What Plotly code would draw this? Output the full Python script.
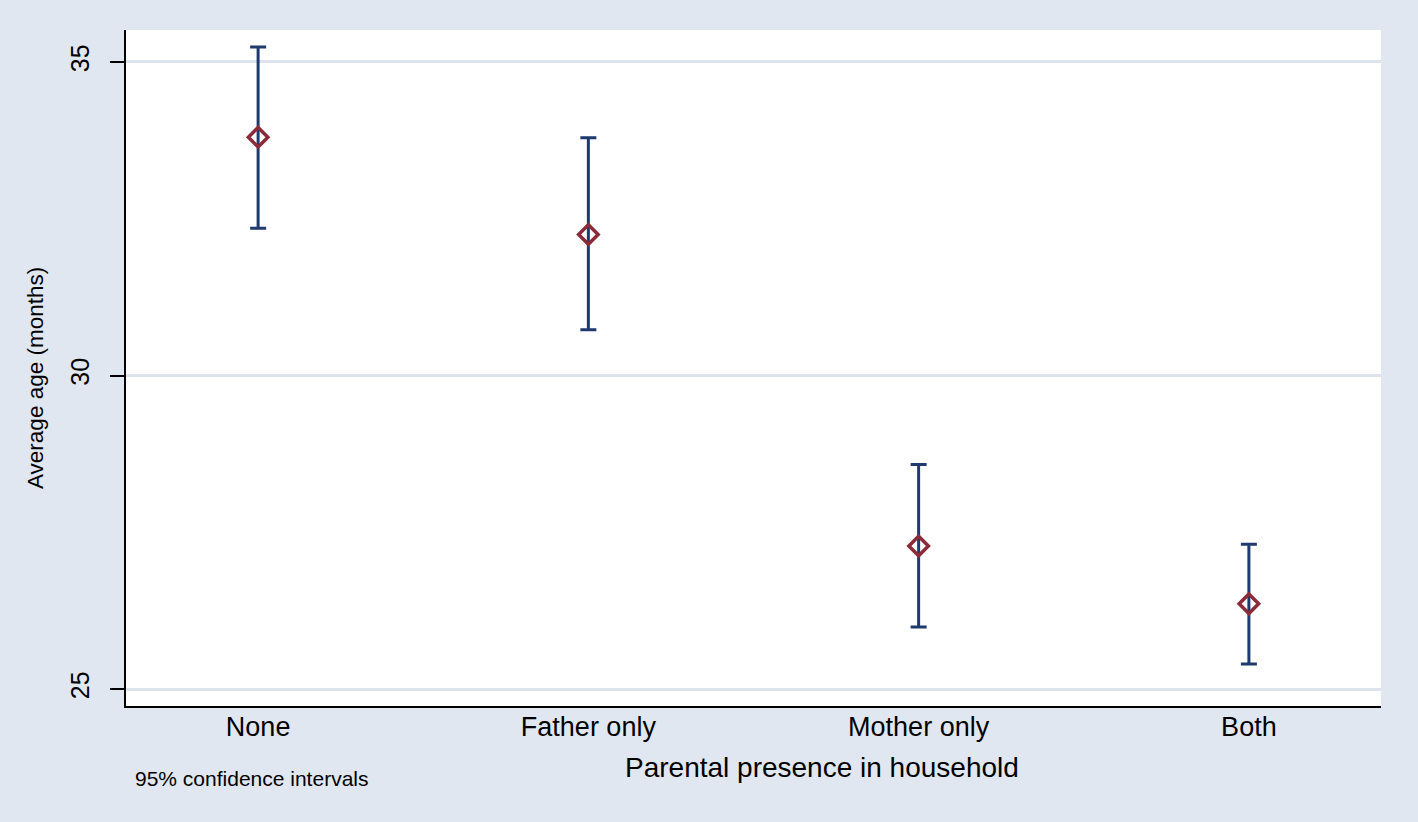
import plotly.graph_objects as go

categories = ["None", "Father only", "Mother only", "Both"]
means = [33.80, 32.25, 27.28, 26.36]
upper = [35.24, 33.79, 28.58, 27.31]
lower = [32.35, 30.73, 25.99, 25.40]
y_ticks = [25, 30, 35]

positions = list(range(len(categories)))
err_plus = [u - m for u, m in zip(upper, means)]
err_minus = [m - l for m, l in zip(means, lower)]

BG = "#e1e7f0"
NAVY = "#1f3a6e"
RED = "#8b2b38"
FONT = "Liberation Sans, Arial, sans-serif"

W, H = 1418, 822
ML, MR, MT, MB = 126, 37, 30, 116
PW, PH = W - ML - MR, H - MT - MB


def px_x(x):
    return (x - ML) / PW


def px_y(y):
    return (H - MB - y) / PH


fig = go.Figure()
fig.add_trace(go.Scatter(
    x=positions, y=means, mode="markers",
    marker=dict(symbol="diamond-open", size=15, color=RED, line=dict(width=3.5, color=RED)),
    error_y=dict(type="data", symmetric=False, array=err_plus, arrayminus=err_minus,
                 color=NAVY, thickness=3, width=8),
    showlegend=False, hoverinfo="skip",
))

fig.update_layout(
    width=W, height=H,
    paper_bgcolor=BG, plot_bgcolor="white",
    margin=dict(l=ML, r=MR, t=MT, b=MB),
    font=dict(family=FONT, color="black"),
    xaxis=dict(
        range=[-0.4, 3.4], tickmode="array", tickvals=positions, ticktext=categories,
        showgrid=False, zeroline=False, showline=True, linecolor="black", linewidth=2,
        ticks="", tickfont=dict(size=27, family=FONT), ticklabelstandoff=-4,
    ),
    yaxis=dict(
        range=[24.73, 35.51], tickmode="array", tickvals=y_ticks, ticktext=[str(v) for v in y_ticks],
        showgrid=True, gridcolor="#dde4ee", gridwidth=3, zeroline=False,
        showline=True, linecolor="black", linewidth=2,
        ticks="outside", ticklen=14, tickwidth=2, tickcolor="black",
        tickangle=-90, tickfont=dict(size=25, family=FONT), ticklabelstandoff=11,
    ),
    annotations=[
        dict(
            text="Parental presence in household", xref="paper", yref="paper",
            x=px_x(822), y=px_y(767), xanchor="center", yanchor="middle", showarrow=False,
            font=dict(size=28, family=FONT, color="black"),
        ),
        dict(
            text="Average age (months)", xref="paper", yref="paper",
            x=px_x(35), y=px_y(378), xanchor="center", yanchor="middle", showarrow=False,
            textangle=-90, font=dict(size=22.5, family=FONT, color="black"),
        ),
        dict(
            text="95% confidence intervals", xref="paper", yref="paper",
            x=px_x(133), y=px_y(778), xanchor="left", yanchor="middle", showarrow=False,
            font=dict(size=21, family=FONT, color="black"),
        ),
    ],
)

fig.write_html(
    "out.html",
    config={"displayModeBar": False},
    post_script="document.body.style.margin='0';document.body.style.background='%s';document.body.style.overflow='hidden';" % BG,
)
